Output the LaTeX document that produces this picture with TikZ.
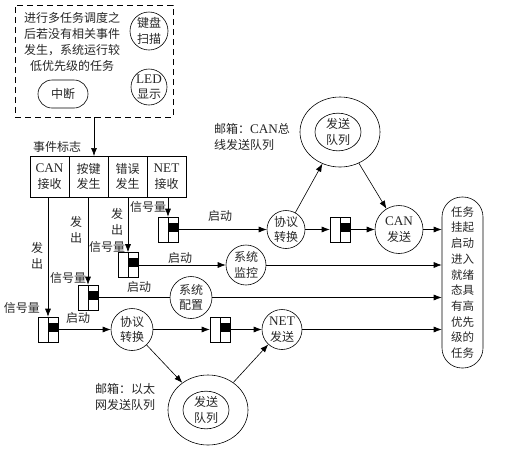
\documentclass[tikz,border=0pt]{standalone}
\usepackage{fontspec}
\setmainfont{Noto Sans CJK SC}
\newfontfamily\latin[Scale=1.1]{Liberation Serif}
\usetikzlibrary{shapes.geometric, arrows.meta, positioning, calc}

\begin{document}
\begin{tikzpicture}[x=1pt, y=-1pt, semithick,
  every node/.style={font=\fontsize{12}{15.5}\selectfont, text=black!85},
  flag/.style={draw, minimum width=39pt, minimum height=41pt, inner sep=0pt, outer sep=0pt, align=center},
  sem/.style={draw, minimum width=20pt, minimum height=25pt, inner sep=0pt,
    path picture={
      \draw (path picture bounding box.north) -- (path picture bounding box.south);
      \fill ($(path picture bounding box.north)!0.22!(path picture bounding box.south)$) rectangle ($(path picture bounding box.north east)!0.58!(path picture bounding box.south east)$);
    }},
  proc/.style={draw, circle, minimum size=40pt, inner sep=0pt, align=center},
  mbox/.style={draw, ellipse, minimum width=80pt, minimum height=70pt},
  mboxin/.style={draw, ellipse, minimum width=46pt, minimum height=36pt, inner sep=0pt, align=center},
  task/.style={draw, rounded corners=20pt, minimum width=41pt, minimum height=171pt, inner sep=0pt, align=center, font=\fontsize{11.5}{15.7}\selectfont},
  lbl/.style={align=center},
  arrow/.style={-{Latex[length=8pt,width=6pt]}}]
  \useasboundingbox (0,0) rectangle (506,451);

  % idle tasks
  \node[draw, dash pattern=on 6pt off 4pt, minimum width=158pt, minimum height=112pt] (idle) at (94,61) {};
  \node[lbl, font=\fontsize{12}{16}\selectfont] (idletxt) at (72,42) {进行多任务调度之\\后若没有相关事件\\发生，系统运行较\\低优先级的任务};
  \node[draw, rounded corners=14pt, minimum width=50pt, minimum height=28pt] (irq) at (63,94) {中断};
  \node[proc, minimum size=38pt] (kbd) at (149,31) {键盘\\扫描};
  \node[proc, minimum size=36pt] (led) at (149,87) {{\latin LED}\\显示};

  % event flags
  \node[flag] (can) at (49.5,176.5) {{\latin CAN}\\接收};
  \node[flag, right=0pt of can] (key) {按键\\发生};
  \node[flag, right=0pt of key] (err) {错误\\发生};
  \node[flag, right=0pt of err] (net) {{\latin NET}\\接收};
  \node (flaglbl) at (57,147) {事件标志};
  \draw[arrow] (idle.south) -- (idle.south |- key.north);

  % semaphores
  \node[sem] (sem1) at (48,329.5) {};
  \node[sem] (sem2) at (88,297.5) {};
  \node[sem] (sem3) at (128,265) {};
  \node[sem] (sem4) at (168,229.5) {};
  \draw[arrow] (can.south -| sem1) -- (sem1.north);
  \draw[arrow] (key.south -| sem2) -- (sem2.north);
  \draw[arrow] (err.south -| sem3) -- (sem3.north);
  \draw[arrow] (net.south -| sem4) -- (sem4.north);
  \node[lbl] (out1) at (37,256) {发\\出};
  \node[lbl] (out2) at (76,230) {发\\出};
  \node[lbl] (out3) at (117,222) {发\\出};
  \node (sig1) at (22,308) {信号量};
  \node (sig2) at (68,278) {信号量};
  \node (sig3) at (107,247) {信号量};
  \node (sig4) at (148,207) {信号量};

  % tasks
  \node[task] (task) at (462.5,282.5) {任务\\挂起\\启动\\进入\\就绪\\态具\\有高\\优先\\级的\\任务};

  % CAN path
  \node[proc, minimum size=38pt] (conv1) at (286,229.5) {协议\\转换};
  \node[sem] (sem5) at (340,229.5) {};
  \node[proc, minimum size=48pt] (cantx) at (399,229.5) {{\latin CAN}\\发送};
  \node[mbox] (canq) at (340,132) {};
  \node[mboxin] (canqin) at (338,132) {发送\\队列};
  \node[align=left] (canqlbl) at (252,137) {邮箱：{\latin CAN}总\\线发送队列};
  \node (start4) at (220,216) {启动};
  \draw[arrow] (sem4) -- (conv1);
  \draw[arrow] (conv1) -- (sem5);
  \draw[arrow] (sem5) -- (cantx);
  \draw[arrow] (cantx) -- (cantx -| task.west);
  \draw[arrow] (conv1) -- (canq);
  \draw[arrow] (canq) -- (cantx);

  % monitor and config
  \node[proc, minimum size=40pt] (mon) at (246,265) {系统\\监控};
  \node[proc, minimum size=42pt] (cfg) at (191,297.5) {系统\\配置};
  \node (start3) at (180,258) {启动};
  \node (start2) at (139,287) {启动};
  \draw[arrow] (sem3) -- (mon);
  \draw[arrow] (mon) -- (mon -| task.west);
  \draw (sem2) -- (cfg);
  \draw[arrow] (cfg) -- (cfg -| task.west);

  % NET path
  \node[proc, minimum size=42pt] (conv2) at (132,329.5) {协议\\转换};
  \node[sem] (sem6) at (220,329.5) {};
  \node[proc, minimum size=40pt] (nettx) at (282,329.5) {{\latin NET}\\发送};
  \node[mbox] (netq) at (208,410) {};
  \node[mboxin] (netqin) at (206,410) {发送\\队列};
  \node[align=left] (netqlbl) at (125,397) {邮箱：以太\\网发送队列};
  \node (start1) at (78,318) {启动};
  \draw[arrow] (sem1) -- (conv2);
  \draw[arrow] (conv2) -- (sem6);
  \draw[arrow] (sem6) -- (nettx);
  \draw[arrow] (nettx) -- (nettx -| task.west);
  \draw[arrow] (conv2) -- (netq);
  \draw[arrow] (netq) -- (nettx);
\end{tikzpicture}
\end{document}
